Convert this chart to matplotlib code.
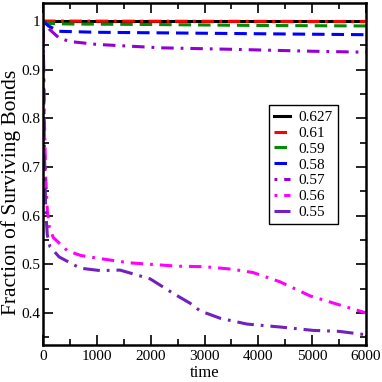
import matplotlib
matplotlib.use("Agg")
import matplotlib.pyplot as plt
from matplotlib.ticker import MultipleLocator

plt.rcParams['font.family'] = ['Liberation Serif', 'DejaVu Serif']
plt.rcParams['lines.scale_dashes'] = False

labels = ["0.627", "0.61", "0.59", "0.58", "0.57", "0.56", "0.55"]
colors = ["#000000", "#ff0000", "#008b00", "#0000ff", "#9400d3", "#ff00ff", "#7221bc"]

t_0627 = [0, 6000]
y_0627 = [1.0, 1.0]
t_061 = [0, 6000]
y_061 = [1.0, 0.999]
t_059 = [0, 100, 500, 2000, 4000, 6000]
y_059 = [1.0, 0.995, 0.994, 0.993, 0.991, 0.990]
t_058 = [0, 100, 300, 1000, 2000, 4000, 6000]
y_058 = [1.0, 0.99, 0.979, 0.977, 0.976, 0.974, 0.972]
t_057 = [0, 100, 300, 500, 1000, 2200, 3500, 5000, 6000]
y_057 = [1.0, 0.985, 0.965, 0.958, 0.952, 0.945, 0.942, 0.938, 0.936]
t_056 = [0, 10, 25, 50, 80, 120, 190, 450, 700, 1100, 1600, 2500, 3000, 3500, 3900, 4400, 4960, 5400, 6000]
y_056 = [1.0, 0.93, 0.80, 0.68, 0.61, 0.575, 0.555, 0.528, 0.518, 0.511, 0.503, 0.496, 0.495, 0.490, 0.483, 0.464, 0.435, 0.42, 0.40]
t_055 = [0, 10, 25, 50, 80, 130, 300, 690, 1060, 1430, 1990, 2420, 2730, 2920, 3290, 3790, 4400, 5020, 5500, 6000]
y_055 = [1.0, 0.90, 0.74, 0.61, 0.56, 0.536, 0.515, 0.492, 0.487, 0.488, 0.47, 0.44, 0.42, 0.404, 0.389, 0.377, 0.371, 0.364, 0.362, 0.355]

series = [(t_0627, y_0627), (t_061, y_061), (t_059, y_059), (t_058, y_058),
          (t_057, y_057), (t_056, y_056), (t_055, y_055)]
styles = ["-", (0, (9, 4, 2, 4)), (0, (9, 5)), (0, (9, 5)),
          (0, (2, 5, 9, 5)), (0, (2, 5, 9, 5)), (0, (12, 5, 2, 5))]

fig = plt.figure(figsize=(3.82, 3.82), dpi=100)
ax = fig.add_axes([0.1126, 0.0969, 0.8455, 0.895])

for (t, y), c, ls, lab in zip(series, colors, styles, labels):
    ax.plot(t, y, color=c, linestyle=ls, linewidth=2.2, label=lab)

ax.set_xlim(0, 6000)
ax.set_ylim(0.334, 1.037)
ax.xaxis.set_major_locator(MultipleLocator(1000))
ax.xaxis.set_minor_locator(MultipleLocator(500))
ax.yaxis.set_minor_locator(MultipleLocator(0.05))
ax.set_yticks([0.4, 0.5, 0.6, 0.7, 0.8, 0.9, 1.0])
ax.set_yticklabels(["0.4", "0.5", "0.6", "0.7", "0.8", "0.9", "1"])
ax.tick_params(which='both', direction='in', top=True, right=True, labelsize=11, width=1.2)
ax.tick_params(axis='y', which='both', pad=2)
ax.tick_params(which='major', length=7)
ax.tick_params(which='minor', length=4)
for s in ax.spines.values():
    s.set_linewidth(1.8)

ax.set_xlabel("time", fontsize=12)
ax.xaxis.set_label_coords(0.50, -0.060)
ax.set_ylabel("Fraction of Surviving Bonds", fontsize=15.5)
ax.yaxis.set_label_coords(-0.0697, 0.447)

leg = ax.legend(loc='upper left', bbox_to_anchor=(0.70, 0.702), fontsize=11,
                handlelength=1.05, handletextpad=0.5, labelspacing=0.14,
                borderpad=0.35, fancybox=False, framealpha=1, edgecolor='black',
                borderaxespad=0)
leg.get_frame().set_linewidth(1.0)

fig.savefig("out.png", dpi=100)
